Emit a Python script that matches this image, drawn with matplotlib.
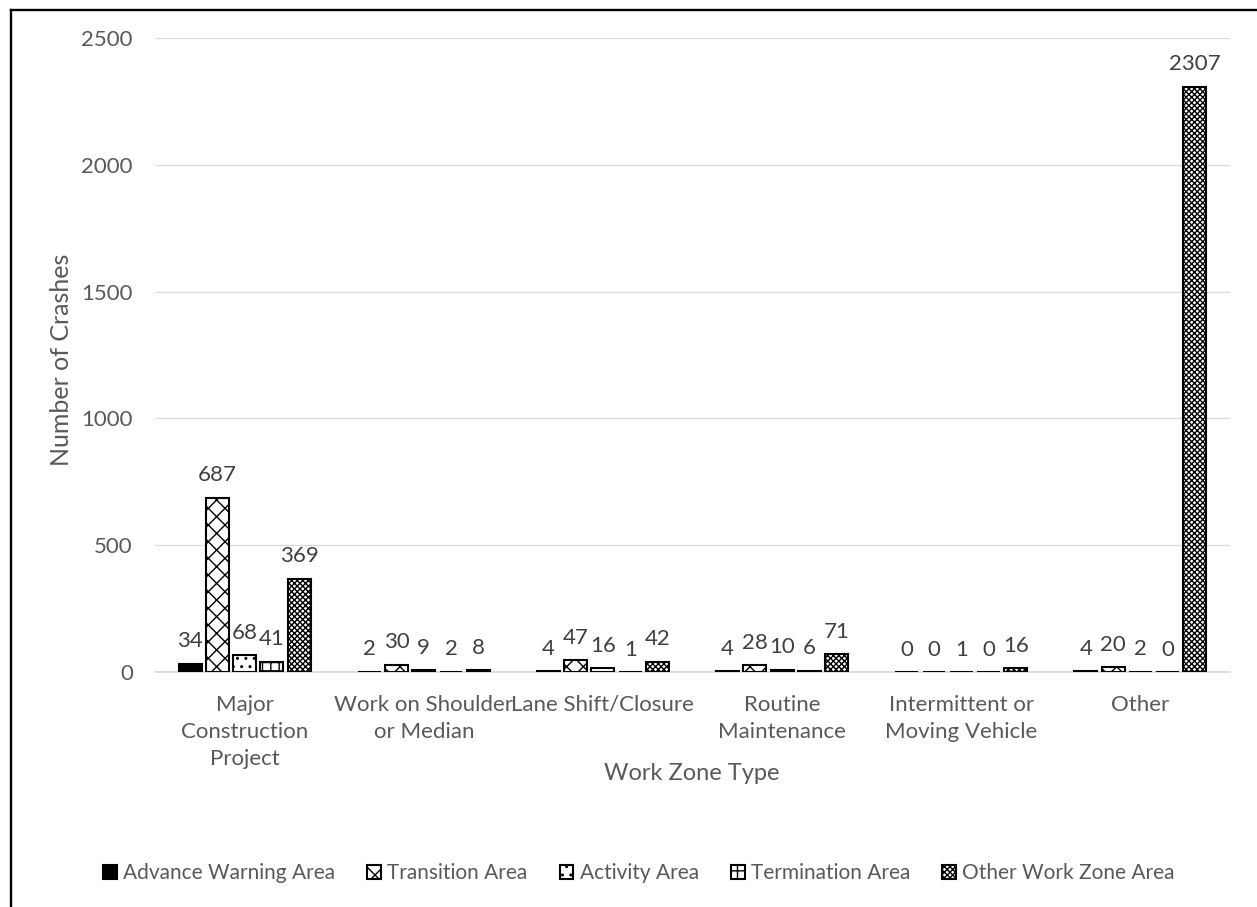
import matplotlib
matplotlib.use("Agg")
import matplotlib.pyplot as plt
import numpy as np
from matplotlib.lines import Line2D

categories = ["Major\nConstruction\nProject", "Work on Shoulder\nor Median",
              "Lane Shift/Closure", "Routine\nMaintenance",
              "Intermittent or\nMoving Vehicle", "Other"]
series_names = ["Advance Warning Area", "Transition Area", "Activity Area",
                "Termination Area", "Other Work Zone Area"]
advance_warning = [34, 2, 4, 4, 0, 4]
transition = [687, 30, 47, 28, 0, 20]
activity = [68, 9, 16, 10, 1, 2]
termination = [41, 2, 1, 6, 0, 0]
other_area = [369, 8, 42, 71, 16, 2307]
y_ticks = [0, 500, 1000, 1500, 2000, 2500]

series = [advance_warning, transition, activity, termination, other_area]
styles = [
    dict(facecolor="black", hatch=None),
    dict(facecolor="white", hatch="xx"),
    dict(facecolor="white", hatch=".."),
    dict(facecolor="white", hatch="++"),
    dict(facecolor="white", hatch="xxxxxx"),
]

plt.rcParams["font.family"] = ["Lato", "DejaVu Sans"]
plt.rcParams["hatch.linewidth"] = 1.0
text_color = "#595959"

W, H = 1257, 907
fig = plt.figure(figsize=(W / 100, H / 100), dpi=100)
ax = fig.add_axes([155 / W, 1 - 672.3 / H, 1075 / W, 634.6 / H])

x = np.arange(len(categories))
width = 0.128
step = 0.152
n = len(series)
for i, (vals, st) in enumerate(zip(series, styles)):
    pos = x + (i - (n - 1) / 2) * step
    bars = ax.bar(pos, vals, width=width, facecolor=st["facecolor"],
                  hatch=st["hatch"], edgecolor="black", linewidth=1.5,
                  label=series_names[i], zorder=3)
    for b, v in zip(bars, vals):
        ax.annotate(str(v), (b.get_x() + b.get_width() / 2, v),
                    xytext=(0, 9), textcoords="offset points",
                    ha="center", va="bottom", fontsize=16, color="#404040")

ax.set_ylim(0, 2500)
ax.set_xlim(-0.5, len(categories) - 0.5)
ax.set_yticks(y_ticks)
ax.set_yticklabels([str(t) for t in y_ticks], fontsize=16, color=text_color)
ax.set_xticks(x)
ax.set_xticklabels(categories, fontsize=16, color=text_color, linespacing=1.45)
ax.tick_params(axis="y", length=0, pad=16)
ax.tick_params(axis="x", length=0, pad=16)
ax.yaxis.grid(True, color="#d9d9d9", linewidth=0.9, zorder=0)
ax.set_axisbelow(True)
for side in ["top", "right", "left"]:
    ax.spines[side].set_visible(False)
ax.spines["bottom"].set_color("#d9d9d9")
ax.spines["bottom"].set_linewidth(1.2)

fig.text(62 / W, 1 - 360 / H, "Number of Crashes", rotation=90, ha="center",
         va="center", fontsize=18, color=text_color)
fig.text(692 / W, 1 - 773 / H, "Work Zone Type", ha="center", va="center",
         fontsize=17, color=text_color)

handles, labels = ax.get_legend_handles_labels()
leg = fig.legend(handles, labels, loc="center", bbox_to_anchor=(639 / W, 1 - 873 / H),
                 ncol=5, frameon=False, fontsize=15, handlelength=0.65,
                 handleheight=0.65, handletextpad=0.3, columnspacing=1.55)
for t in leg.get_texts():
    t.set_color(text_color)

# frame lines along the left and top edges
fig.add_artist(Line2D([11 / W, 11 / W], [0, 1 - 9.5 / H], transform=fig.transFigure,
                      color="black", linewidth=1.7))
fig.add_artist(Line2D([11 / W, 1], [1 - 9.5 / H, 1 - 9.5 / H], transform=fig.transFigure,
                      color="black", linewidth=1.7))

fig.savefig("out.png", dpi=100)
